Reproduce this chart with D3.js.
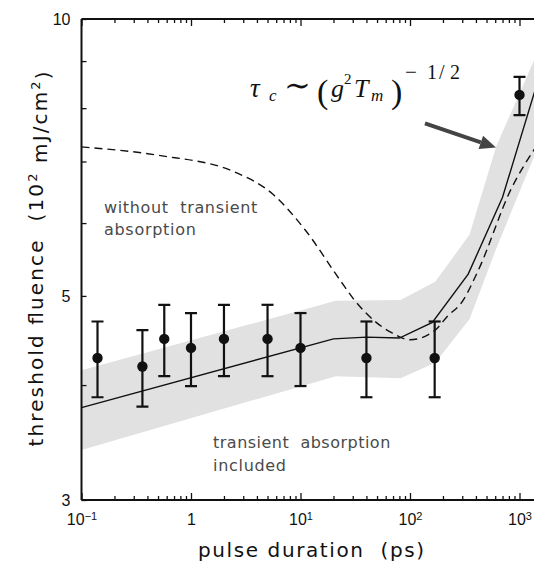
<!DOCTYPE html>
<html>
<head>
<meta charset="utf-8">
<script src="https://cdn.jsdelivr.net/npm/d3@7"></script>
<style>
  body { margin: 0; background: #fff; }
  svg { display: block; }
  text { white-space: pre; }
</style>
</head>
<body>
<svg id="chart" width="534" height="562"></svg>
<script>
// measured thresholds (pulse duration in ps, fluence in 10^2 mJ/cm^2)
const ptX  = [0.14, 0.36, 0.57, 1.0, 2.0, 5.0, 10, 40, 168, 1000];
const ptY  = [4.28, 4.19, 4.49, 4.39, 4.49, 4.49, 4.39, 4.28, 4.28, 8.27];
const ptLo = [3.88, 3.79, 4.09, 3.99, 4.09, 4.09, 3.99, 3.88, 3.88, 7.86];
const ptHi = [4.69, 4.59, 4.89, 4.79, 4.89, 4.89, 4.79, 4.69, 4.69, 8.65];

// model with transient absorption (solid)
const withX = [0.1, 20, 40, 80, 160, 340, 700, 1400];
const withY = [3.78, 4.49, 4.51, 4.50, 4.68, 5.28, 6.4, 8.4];

// model without transient absorption (dashed)
const noX = [0.1, 0.5, 2.5, 5.5, 11, 23, 31, 48, 68, 100, 170, 219, 300, 420, 831, 1400];
const noY = [7.26, 7.11, 6.82, 6.46, 5.90, 5.2, 4.95, 4.69, 4.56, 4.48, 4.59, 4.75, 4.93, 5.33, 6.52, 7.25];

// uncertainty band
const bandX  = [0.1, 21, 82, 170, 350, 610, 1000, 1400];
const bandHi = [4.15, 4.94, 4.95, 5.18, 5.83, 7.26, 8.3, 9.1];
const bandLo = [3.40, 4.09, 4.07, 4.23, 4.72, 5.62, 6.49, 7.15];

// axis ticks
const xMajor = [0.1, 1, 10, 100, 1000];
const xLabels = [["10", "\u22121"], ["1", ""], ["10", "1"], ["10", "2"], ["10", "3"]];
const yTicks = [3, 4, 5, 6, 7, 8, 9, 10];
const yLabels = {3: "3", 5: "5", 10: "10"};

// arrow (data coords)
const arrowFrom = [137, 7.70];
const arrowTo = [610, 7.25];

const W = 534, H = 562;
const pLeft = 81.5, pTop = 19, pBottom = 500;

const x = d3.scaleLog().domain([0.1, 1000]).range([pLeft, 519.5]);
const y = d3.scaleLog().domain([3, 10]).range([pBottom, pTop]);

const xMinor = [];
for (let e = -1; e <= 2; e++) {
  for (let m = 2; m <= 9; m++) xMinor.push(m * Math.pow(10, e));
}

const svg = d3.select("#chart");

svg.append("defs").append("clipPath").attr("id", "plot")
  .append("rect").attr("x", pLeft).attr("y", pTop)
  .attr("width", W - pLeft).attr("height", pBottom - pTop);

const g = svg.append("g").attr("clip-path", "url(#plot)");

// band
const bandData = bandX.map((v, i) => ({x: v, lo: bandLo[i], hi: bandHi[i]}));
g.append("path")
  .datum(bandData)
  .attr("fill", "#e1e1e2")
  .attr("d", d3.area().x(d => x(d.x)).y0(d => y(d.lo)).y1(d => y(d.hi)));

// dashed curve
g.append("path")
  .datum(noX.map((v, i) => [v, noY[i]]))
  .attr("fill", "none")
  .attr("stroke", "#111")
  .attr("stroke-width", 1.4)
  .attr("stroke-dasharray", "8,5")
  .attr("d", d3.line().x(d => x(d[0])).y(d => y(d[1])).curve(d3.curveMonotoneX));

// solid curve
g.append("path")
  .datum(withX.map((v, i) => [v, withY[i]]))
  .attr("fill", "none")
  .attr("stroke", "#111")
  .attr("stroke-width", 1.4)
  .attr("d", d3.line().x(d => x(d[0])).y(d => y(d[1])));

// error bars + points
const pts = ptX.map((v, i) => ({x: v, y: ptY[i], lo: ptLo[i], hi: ptHi[i]}));
const eb = g.append("g").attr("stroke", "#111").attr("stroke-width", 2.2);
eb.selectAll(".v").data(pts).enter().append("line")
  .attr("x1", d => x(d.x)).attr("x2", d => x(d.x))
  .attr("y1", d => y(d.lo)).attr("y2", d => y(d.hi));
eb.selectAll(".t").data(pts).enter().append("line")
  .attr("x1", d => x(d.x) - 6).attr("x2", d => x(d.x) + 6)
  .attr("y1", d => y(d.hi)).attr("y2", d => y(d.hi));
eb.selectAll(".b").data(pts).enter().append("line")
  .attr("x1", d => x(d.x) - 6).attr("x2", d => x(d.x) + 6)
  .attr("y1", d => y(d.lo)).attr("y2", d => y(d.lo));
g.selectAll("circle").data(pts).enter().append("circle")
  .attr("cx", d => x(d.x)).attr("cy", d => y(d.y)).attr("r", 5.2)
  .attr("fill", "#111");

// axes
function styleAxis(sel) {
  sel.select(".domain").remove();
  sel.selectAll(".tick line").attr("stroke", "#111").attr("stroke-width", 1.3);
  sel.selectAll(".tick text").attr("font-family", "'Liberation Sans', Arial, sans-serif")
    .attr("font-size", 16).attr("fill", "#111");
}

const bMinor = svg.append("g").attr("transform", `translate(0,${pBottom})`)
  .call(d3.axisBottom(x).tickValues(xMinor).tickSize(-4).tickFormat(""));
styleAxis(bMinor);
const bMajor = svg.append("g").attr("transform", `translate(0,${pBottom})`)
  .call(d3.axisBottom(x).tickValues(xMajor).tickSize(-7).tickPadding(14).tickFormat(""));
styleAxis(bMajor);
bMajor.selectAll(".tick text").each(function(d, i) {
  const t = d3.select(this);
  t.text(null).attr("dy", "0.71em");
  t.append("tspan").text(xLabels[i][0]);
  if (xLabels[i][1]) {
    t.append("tspan").attr("dy", "-0.5em").attr("font-size", 11).text(xLabels[i][1]);
  }
});

const tMinor = svg.append("g").attr("transform", `translate(0,${pTop})`)
  .call(d3.axisTop(x).tickValues(xMinor).tickSize(-4).tickFormat(""));
styleAxis(tMinor);
const tMajor = svg.append("g").attr("transform", `translate(0,${pTop})`)
  .call(d3.axisTop(x).tickValues(xMajor).tickSize(-7).tickFormat(""));
styleAxis(tMajor);

const lAxis = svg.append("g").attr("transform", `translate(${pLeft},0)`)
  .call(d3.axisLeft(y).tickValues(yTicks).tickSize(-5).tickPadding(11)
    .tickFormat(d => yLabels[d] || ""));
styleAxis(lAxis);

// axis frame lines
const frame = svg.append("g").attr("stroke", "#111").attr("stroke-width", 2);
frame.append("line").attr("x1", pLeft).attr("x2", W).attr("y1", pBottom).attr("y2", pBottom);
frame.append("line").attr("x1", pLeft).attr("x2", W).attr("y1", pTop).attr("y2", pTop);
frame.append("line").attr("x1", pLeft).attr("x2", pLeft).attr("y1", pTop).attr("y2", pBottom);

// axis titles
const titleFont = "'DejaVu Sans', Verdana, sans-serif";
svg.append("text")
  .attr("x", 311).attr("y", 557)
  .attr("text-anchor", "middle")
  .attr("font-family", titleFont).attr("font-size", 20).attr("fill", "#111")
  .attr("textLength", 226).attr("lengthAdjust", "spacing")
  .text("pulse duration  (ps)");

const yt = svg.append("text")
  .attr("transform", "translate(43,259) rotate(-90)")
  .attr("text-anchor", "middle")
  .attr("font-family", titleFont).attr("font-size", 20).attr("fill", "#111")
  .attr("textLength", 375).attr("lengthAdjust", "spacing");
yt.append("tspan").text("threshold fluence  (10");
yt.append("tspan").attr("dy", "-0.5em").attr("font-size", 13).text("2");
yt.append("tspan").attr("dy", "0.5em").text(" mJ/cm");
yt.append("tspan").attr("dy", "-0.5em").attr("font-size", 13).text("2");
yt.append("tspan").attr("dy", "0.5em").text(")");

// annotations
const noteFont = "'DejaVu Sans', Verdana, sans-serif";
function note(tx, ty, s, len) {
  const t = svg.append("text").attr("x", tx).attr("y", ty)
    .attr("font-family", noteFont).attr("font-size", 16)
    .attr("fill", "#4a4a4a").attr("letter-spacing", 0.7).text(s);
  if (len) t.attr("textLength", len).attr("lengthAdjust", "spacing");
}
note(104, 213, "without  transient", 154);
note(104, 235, "absorption");
note(213, 448, "transient  absorption", 178);
note(213, 471, "included");

// formula: tau_c ~ (g^2 T_m)^(-1/2), one text with placed pieces
const serif = "'Liberation Serif', 'DejaVu Serif', serif";
const formula = [
  [250, 97, "\u03C4", 27, true],
  [269, 101, "c", 17, true],
  [284, 96, "\u223C", 32, false],
  [317, 103, "(", 34, false],
  [331, 97, "g", 26, true],
  [344, 84, "2", 15, false],
  [354, 97, "T", 26, true],
  [371, 101, "m", 17, true],
  [391, 103, ")", 34, false],
  [405, 79, "\u2212", 21, false],
  [427, 79, "1", 20, false],
  [439, 79, "/", 20, false],
  [450, 79, "2", 20, false]
];
const ft = svg.append("text").attr("font-family", serif).attr("fill", "#111");
formula.forEach(p => {
  ft.append("tspan").attr("x", p[0]).attr("y", p[1])
    .attr("font-size", p[3]).attr("font-style", p[4] ? "italic" : "normal")
    .text(p[2]);
});

// arrow
const ax0 = x(arrowFrom[0]), ay0 = y(arrowFrom[1]);
const ax1 = x(arrowTo[0]), ay1 = y(arrowTo[1]);
const ang = Math.atan2(ay1 - ay0, ax1 - ax0);
const headL = 16, headW = 7;
const bx = ax1 - headL * Math.cos(ang), by = ay1 - headL * Math.sin(ang);
svg.append("line")
  .attr("x1", ax0).attr("y1", ay0).attr("x2", bx).attr("y2", by)
  .attr("stroke", "#444").attr("stroke-width", 3.8);
svg.append("path")
  .attr("fill", "#444")
  .attr("d", `M${ax1},${ay1}L${bx + headW * Math.sin(ang)},${by - headW * Math.cos(ang)}L${bx - headW * Math.sin(ang)},${by + headW * Math.cos(ang)}Z`);
</script>
</body>
</html>
